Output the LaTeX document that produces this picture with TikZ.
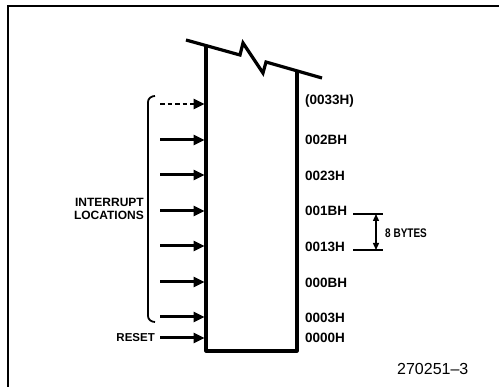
\documentclass[tikz,border=0pt]{standalone}
\usepackage{fontspec}
\setmainfont{Liberation Sans}
\newfontfamily\narrowsans[FakeStretch=0.8]{Liberation Sans}
\usetikzlibrary{arrows.meta}
\begin{document}
\begin{tikzpicture}[x=1pt,y=-1pt,
  frameline/.style={line width=2pt},
  boxline/.style={line width=3.2pt},
  inarrow/.style={line width=3pt,-{Triangle[length=11pt,width=10pt]},shorten >=1.4pt},
  hexlbl/.style={font=\bfseries\fontsize{13.5}{14}\selectfont, inner sep=0pt, anchor=west},
  txtlbl/.style={font=\bfseries\fontsize{12}{13.5}\selectfont, inner sep=0pt},
  dimline/.style={line width=1.3pt},
]
\useasboundingbox (0,0) rectangle (499,387);
% frame
\draw[frameline] (8,387) -- (8,6) -- (499,6);

% memory box
\coordinate (tl) at (206,45.6);
\coordinate (tr) at (297,71);
\coordinate (bl) at (206,351);
\coordinate (br) at (297,351);
\draw[boxline, line join=round] (tl) -- (bl) -- (br) -- (tr);
\draw[boxline, line join=miter] (186,40) -- (240,55) -- (243,43) -- (263,73) -- (266,62) -- (322,78);

% arrows
\foreach \n/\y in {1/140,2/175,3/211,4/246,5/282,6/317,7/338}{
  \coordinate (a\n) at (160,\y);
  \coordinate (b\n) at (206,\y);
  \draw[inarrow] (a\n) -- (b\n);
}
\coordinate (a0) at (160,104);
\coordinate (b0) at (206,104);
\draw[inarrow, line width=2.4pt, dash pattern=on 4.5pt off 3pt] (a0) -- (b0);

% address labels
\node[hexlbl] (h0) at (305,101) {(0033H)};
\node[hexlbl] (h1) at (305,140) {002BH};
\node[hexlbl] (h2) at (305,176) {0023H};
\node[hexlbl] (h3) at (305,211) {001BH};
\node[hexlbl] (h4) at (305,247) {0013H};
\node[hexlbl] (h5) at (305,283) {000BH};
\node[hexlbl] (h6) at (305,318) {0003H};
\node[hexlbl] (h7) at (305,338) {0000H};

% 8 bytes dimension
\coordinate (d1l) at (353,214); \coordinate (d1r) at (383,214);
\coordinate (d2l) at (353,250); \coordinate (d2r) at (383,250);
\draw[dimline] (d1l) -- (d1r);
\draw[dimline] (d2l) -- (d2r);
\coordinate (v1) at (376,214); \coordinate (v2) at (376,250);
\draw[line width=1.4pt,{Triangle[length=7pt,width=6pt]}-{Triangle[length=7pt,width=6pt]}] (v1) -- (v2);
\node[inner sep=0pt, anchor=west, font=\narrowsans\bfseries\fontsize{12.5}{13}\selectfont] (bytes) at (385,233) {8 BYTES};

% bracket
\draw[line width=1.8pt] (155,96) to[out=180,in=90] (148,102) -- (148,316) to[out=-90,in=180] (155,322);
\node[txtlbl, anchor=east, align=right] (intr) at (144,209) {INTERRUPT\\LOCATIONS};
\node[txtlbl, anchor=east, font=\bfseries\fontsize{11.5}{12}\selectfont] (reset) at (155,338) {RESET};

\node[inner sep=0pt, anchor=west, font=\fontsize{16}{16}\selectfont] (fig) at (397,369) {270251--3};
\end{tikzpicture}
\end{document}
